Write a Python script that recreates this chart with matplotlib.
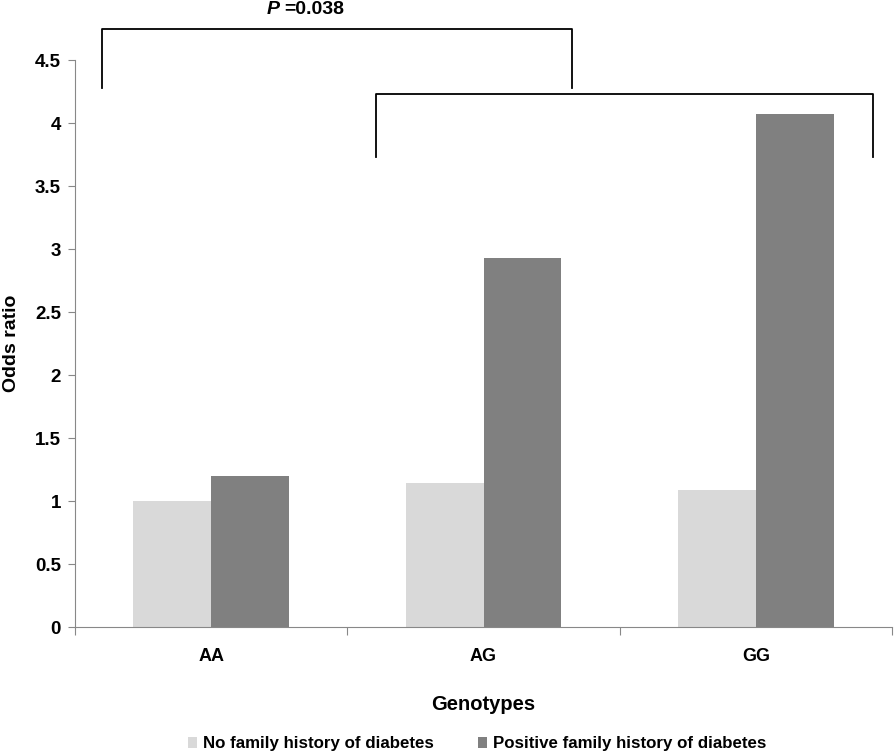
import matplotlib.pyplot as plt
import numpy as np

genotypes = ['AA', 'AG', 'GG']
no_history = [1.0, 1.14, 1.09]
positive_history = [1.2, 2.93, 4.07]
series_labels = ['No family history of diabetes', 'Positive family history of diabetes']
p_text = '=0.038'

plt.rcParams['font.family'] = ['Liberation Sans', 'DejaVu Sans']
plt.rcParams['font.weight'] = 'bold'

fig = plt.figure(figsize=(8.94, 7.56), dpi=100)
ax = fig.add_axes([0.0839, 0.1706, 0.9139, 0.75])

x = np.arange(len(genotypes))
w = 0.286
ax.bar(x - w / 2, no_history, w, color='#d9d9d9', label=series_labels[0])
ax.bar(x + w / 2, positive_history, w, color='#808080', label=series_labels[1])

ax.set_xlim(-0.5, 2.5)
ax.set_ylim(0, 4.5)
ax.set_yticks(np.arange(0, 4.51, 0.5))
ax.set_yticklabels(['0', '0.5', '1', '1.5', '2', '2.5', '3', '3.5', '4', '4.5'])

ax.set_xticks([-0.5, 0.5, 1.5, 2.5])
ax.set_xticklabels([])
ax.set_xticks(x, minor=True)
ax.set_xticklabels(genotypes, minor=True)
ax.tick_params(axis='x', which='major', length=6, color='#888888', direction='out')
ax.tick_params(axis='x', which='minor', length=0, pad=15, labelsize=13)
ax.tick_params(axis='y', length=5, color='#888888', labelsize=13.5, pad=5)

for s in ['top', 'right']:
    ax.spines[s].set_visible(False)
ax.spines['left'].set_color('#888888')
ax.spines['bottom'].set_color('#888888')

ax.set_ylabel('Odds ratio', fontsize=14, fontweight='bold', labelpad=11)
ax.set_xlabel('Genotypes', fontsize=14.5, fontweight='bold', labelpad=22)

# significance brackets
ax.plot([-0.401, -0.401, 1.325, 1.325], [4.28, 4.745, 4.745, 4.28], color='black', lw=1.3, clip_on=False)
ax.plot([0.605, 0.605, 2.431, 2.431], [3.73, 4.23, 4.23, 3.73], color='black', lw=1.3, clip_on=False)
ax.text(0.25, 4.9, 'P', style='italic', fontsize=14, fontweight='bold', ha='right', va='center')
ax.text(0.27, 4.9, p_text, fontsize=14, fontweight='bold', ha='left', va='center')

fig.legend(loc='center', bbox_to_anchor=(0.534, 0.016), ncol=2, frameon=False,
           fontsize=12.2, handlelength=0.55, handleheight=0.55, columnspacing=2.6, handletextpad=0.35)

fig.savefig('out.png', dpi=100)
